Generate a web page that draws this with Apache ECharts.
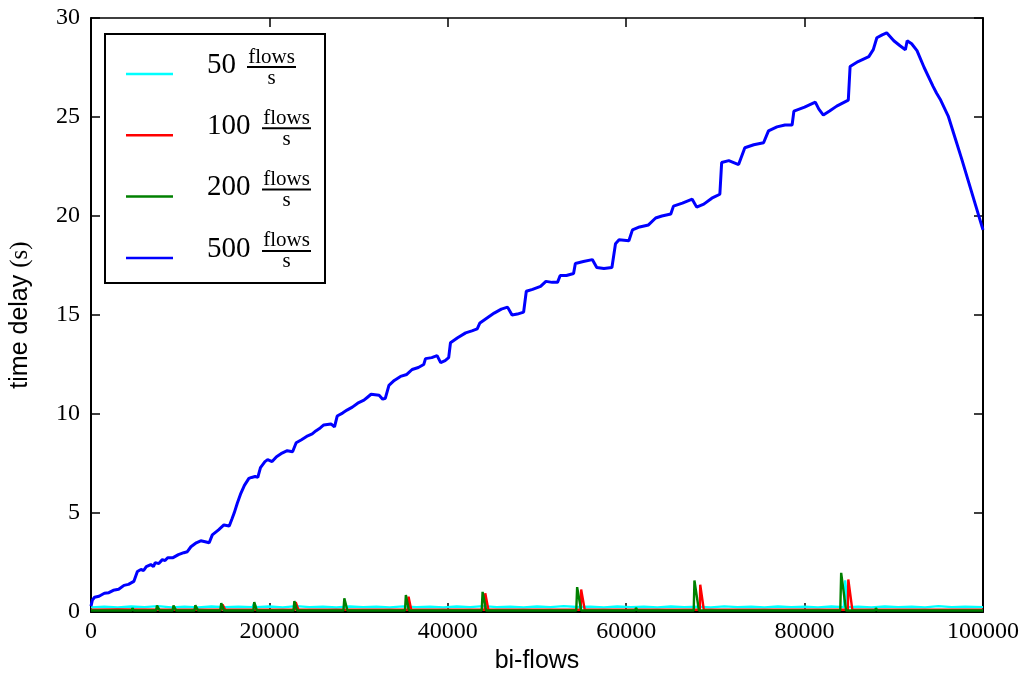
<!DOCTYPE html>
<html>
<head>
<meta charset="utf-8">
<script src="https://cdn.jsdelivr.net/npm/echarts@6/dist/echarts.min.js"></script>
<style>
  html, body { margin: 0; padding: 0; background: #fff; }
  #chart { width: 1029px; height: 679px; }
</style>
</head>
<body>
<div id="chart"></div>
<script>
// legend labels (rates in flows per second)
var rateLabels = ['50', '100', '200', '500'];
var lineColors = ['#00ffff', '#ff0000', '#008000', '#0000ff'];

// 50 flows/s
var cyanPoints = [[0,0.24],[1500,0.27],[3000,0.23],[4500,0.28],[6000,0.25],[7500,0.3],[9000,0.24],[10500,0.27],[12000,0.23],
  [13500,0.28],[15000,0.25],[16500,0.27],[18100,0.25],[18300,0.45],[18500,0.25],[20000,0.28],[21500,0.24],[23000,0.3],
  [24500,0.25],[26000,0.27],[27500,0.23],[29000,0.28],[30500,0.25],[32000,0.27],[33500,0.24],[35000,0.29],[36500,0.25],
  [38000,0.27],[39500,0.24],[41000,0.28],[42500,0.25],[44000,0.3],[45500,0.25],[47000,0.27],[48500,0.24],[50000,0.28],
  [51500,0.25],[53000,0.3],[54500,0.26],[56000,0.27],[57500,0.24],[59000,0.28],[60500,0.25],[62000,0.27],[63500,0.24],
  [65000,0.28],[66500,0.25],[68000,0.27],[69500,0.24],[71000,0.29],[72500,0.25],[74000,0.27],[75500,0.24],[77000,0.28],
  [78500,0.25],[80000,0.27],[81500,0.24],[83000,0.28],[84400,0.25],[84550,1.6],[84700,1.5],[84850,0.25],[86000,0.27],
  [87500,0.24],[89000,0.28],[90500,0.25],[92000,0.27],[93500,0.24],[95000,0.3],[96500,0.25],[98000,0.27],[100000,0.25]];

// 100 flows/s
var redPoints = [[0,0.12],[3000,0.14],[8900,0.12],[9000,0.2],[9150,0.12],[12900,0.12],[13000,0.2],[13150,0.12],
  [14700,0.12],[14750,0.38],[14900,0.36],[15050,0.12],[22900,0.12],[22950,0.5],[23100,0.47],[23250,0.12],
  [26000,0.12],[26100,0.2],[26250,0.12],[31000,0.12],[31100,0.19],[31250,0.12],[35550,0.12],[35600,0.78],[35750,0.75],
  [35900,0.12],[44150,0.12],[44200,0.95],[44350,0.92],[44550,0.12],[47000,0.12],[47100,0.2],[47250,0.12],
  [54900,0.12],[54950,1.14],[55100,1.1],[55350,0.12],[58000,0.12],[58100,0.2],[58250,0.12],[60100,0.12],[60200,0.22],
  [60350,0.12],[66000,0.12],[66100,0.2],[66250,0.12],[68250,0.12],[68300,1.38],[68450,1.32],[68700,0.12],
  [78000,0.12],[78100,0.2],[78250,0.12],[83400,0.12],[83500,0.22],[83650,0.12],[84850,0.12],[84900,1.65],[85050,1.6],
  [85350,0.12],[90000,0.12],[90100,0.2],[90250,0.12],[97000,0.12],[97100,0.2],[97250,0.12],[100000,0.12]];

// 200 flows/s
var greenPoints = [[0,0.08],[4550,0.08],[4650,0.2],[4800,0.08],[7300,0.08],[7400,0.33],[7550,0.3],[7700,0.08],
  [9150,0.08],[9250,0.33],[9400,0.3],[9550,0.08],[11600,0.08],[11700,0.35],[11850,0.32],[12000,0.08],
  [14500,0.08],[14600,0.45],[14750,0.42],[14900,0.08],[18200,0.08],[18300,0.5],[18450,0.47],[18600,0.08],
  [22700,0.08],[22800,0.56],[22950,0.52],[23100,0.08],[28300,0.08],[28400,0.7],[28550,0.66],[28750,0.08],
  [35200,0.08],[35300,0.86],[35450,0.82],[35650,0.08],[43800,0.08],[43900,1.02],[44050,0.96],[44300,0.08],
  [54400,0.08],[54500,1.26],[54650,1.2],[54950,0.08],[61000,0.08],[61100,0.22],[61250,0.08],
  [67570,0.08],[67650,1.6],[67800,1.5],[68150,0.08],[79400,0.08],[79500,0.16],[79650,0.08],
  [84000,0.08],[84100,1.98],[84300,1.9],[84650,0.08],[87900,0.08],[88000,0.2],[88150,0.08],[100000,0.08]];

// 500 flows/s
var bluePoints = [[0,0.3],[150,0.6],[400,0.75],[900,0.8],[1500,0.95],[2000,0.98],[2500,1.1],[3100,1.15],[3700,1.35],
  [4200,1.4],[4800,1.55],[5000,1.6],[5200,2.05],[5600,2.15],[5900,2.1],[6200,2.3],[6700,2.4],[7000,2.3],[7200,2.5],
  [7600,2.45],[8000,2.65],[8300,2.6],[8600,2.75],[9200,2.75],[9800,2.9],[10400,3.0],[10800,3.05],[11200,3.3],
  [11800,3.5],[12300,3.6],[12800,3.55],[13250,3.5],[13600,3.9],[14300,4.15],[14900,4.4],[15500,4.35],[15800,4.7],
  [16050,5.0],[16400,5.5],[16800,6.0],[17200,6.4],[17700,6.75],[18000,6.8],[18400,6.85],[18700,6.8],
  [19000,7.3],[19500,7.6],[19800,7.7],[20300,7.6],[20800,7.85],[21300,8.0],[22000,8.15],[22600,8.1],[22800,8.05],
  [23000,8.55],[23600,8.7],[24300,8.9],[24800,9.0],[25200,9.15],[25700,9.3],[26100,9.45],[26900,9.5],[27300,9.35],
  [27600,9.9],[28200,10.05],[28700,10.2],[29300,10.35],[29900,10.55],[30600,10.7],[31000,10.85],[31400,11.0],
  [32300,10.95],[32700,10.75],[33000,10.8],[33400,11.45],[34000,11.7],[34700,11.9],[35400,12.0],[36000,12.25],
  [36700,12.35],[37300,12.5],[37500,12.8],[38200,12.85],[38800,12.95],[39200,12.6],[39700,12.7],[40100,12.85],
  [40300,13.6],[41100,13.85],[42000,14.1],[42700,14.2],[43300,14.3],[43600,14.6],[44400,14.85],[45200,15.1],
  [46000,15.3],[46700,15.4],[47200,15.0],[47800,15.05],[48500,15.15],[48800,16.2],[49500,16.3],[50400,16.45],
  [51000,16.7],[51700,16.65],[52300,16.65],[52600,17.0],[53300,17.0],[54100,17.1],[54300,17.6],[55200,17.7],
  [56200,17.8],[56700,17.4],[57500,17.35],[58400,17.4],[58800,18.6],[59200,18.8],[60300,18.75],[60700,19.3],
  [61500,19.45],[62500,19.55],[63300,19.9],[64000,20.0],[65000,20.1],[65300,20.5],[66300,20.65],[67400,20.85],
  [67900,20.45],[68700,20.6],[69600,20.9],[70500,21.1],[70700,22.7],[71500,22.8],[72600,22.6],[73300,23.45],
  [74300,23.6],[75400,23.7],[75950,24.3],[76900,24.5],[77800,24.6],[78600,24.6],[78800,25.3],[80000,25.5],
  [81200,25.75],[81600,25.4],[82100,25.1],[82800,25.3],[83600,25.55],[84900,25.85],[85100,27.55],[86000,27.8],
  [87200,28.05],[87700,28.4],[88100,29.0],[88700,29.15],[89200,29.25],[89600,29.05],[90000,28.85],[90700,28.6],
  [91300,28.4],[91500,28.85],[92000,28.7],[92600,28.35],[93400,27.5],[94400,26.55],[94600,26.5],[94800,26.2],
  [95200,25.9],[96100,25.05],[96900,23.9],[97600,22.9],[98400,21.7],[99200,20.5],[100000,19.3]];

var seriesPoints = [cyanPoints, redPoints, greenPoints, bluePoints];

var xTicks = { min: 0, max: 100000, interval: 20000 };
var yTicks = { min: 0, max: 30, interval: 5 };

var serif = '"Liberation Serif", "DejaVu Serif", serif';
var sans = '"Liberation Sans", "DejaVu Sans", sans-serif';

var chart = echarts.init(document.getElementById('chart'));

function axisLine(w) {
    return { show: true, onZero: false, lineStyle: { color: '#000', width: w } };
}
function axisTick() {
    return { show: true, inside: true, length: 9, lineStyle: { color: '#000', width: 1.5 } };
}

// legend drawn by hand so the fraction "flows / s" can be stacked
var legendEls = [{
    type: 'rect',
    shape: { x: 105, y: 34, width: 220, height: 249 },
    style: { fill: '#fff', stroke: '#000', lineWidth: 2 },
    z: 100
}];
rateLabels.forEach(function (lab, i) {
    var off = i * 61.3;
    var fx = i === 0 ? 247 : 262;
    legendEls.push({
        type: 'line', z: 101,
        shape: { x1: 126, y1: 74 + off, x2: 173, y2: 74 + off },
        style: { stroke: lineColors[i], lineWidth: 2.5 }
    });
    legendEls.push({
        type: 'text', z: 101, x: 207, y: 65 + off,
        style: { text: lab, font: '29px ' + serif, fill: '#000', textAlign: 'left', textVerticalAlign: 'middle' }
    });
    legendEls.push({
        type: 'text', z: 101, x: fx + 24.5, y: 57 + off,
        style: { text: 'flows', font: '21px ' + serif, fill: '#000', textAlign: 'center', textVerticalAlign: 'middle' }
    });
    legendEls.push({
        type: 'line', z: 101,
        shape: { x1: fx, y1: 67 + off, x2: fx + 49, y2: 67 + off },
        style: { stroke: '#000', lineWidth: 2 }
    });
    legendEls.push({
        type: 'text', z: 101, x: fx + 24.5, y: 78 + off,
        style: { text: 's', font: '21px ' + serif, fill: '#000', textAlign: 'center', textVerticalAlign: 'middle' }
    });
});

function plainNum(v) { return String(v); }

var option = {
    backgroundColor: '#fff',
    animation: false,
    grid: { left: 90, right: 46, top: 18, bottom: 65, containLabel: false },
    xAxis: [{
        type: 'value', position: 'bottom',
        min: xTicks.min, max: xTicks.max, interval: xTicks.interval,
        axisLine: axisLine(2), axisTick: axisTick(), splitLine: { show: false },
        axisLabel: { color: '#000', fontFamily: serif, fontSize: 24, margin: 8, formatter: plainNum },
        name: 'bi-flows', nameLocation: 'middle', nameGap: 36,
        nameTextStyle: { color: '#000', fontFamily: sans, fontSize: 25 }
    }, {
        type: 'value', position: 'top',
        min: xTicks.min, max: xTicks.max, interval: xTicks.interval,
        axisLine: axisLine(1.5), axisTick: axisTick(), axisLabel: { show: false }, splitLine: { show: false }
    }],
    yAxis: [{
        type: 'value', position: 'left',
        min: yTicks.min, max: yTicks.max, interval: yTicks.interval,
        axisLine: axisLine(2), axisTick: axisTick(), splitLine: { show: false },
        axisLabel: { color: '#000', fontFamily: serif, fontSize: 24, margin: 11, formatter: plainNum },
        name: 'time delay {p|(s)}', nameLocation: 'middle', nameGap: 58, nameRotate: 90,
        nameTextStyle: {
            color: '#000', fontFamily: sans, fontSize: 25,
            rich: { p: { fontFamily: serif, fontSize: 25, color: '#000' } }
        }
    }, {
        type: 'value', position: 'right',
        min: yTicks.min, max: yTicks.max, interval: yTicks.interval,
        axisLine: axisLine(2), axisTick: axisTick(), axisLabel: { show: false }, splitLine: { show: false }
    }],
    series: seriesPoints.map(function (pts, i) {
        return {
            name: rateLabels[i] + ' flows/s',
            type: 'line',
            xAxisIndex: 0, yAxisIndex: 0,
            data: pts,
            showSymbol: false,
            lineStyle: { color: lineColors[i], width: i === 3 ? 3 : 2.4 },
            itemStyle: { color: lineColors[i] },
            z: 2 + i
        };
    }),
    graphic: legendEls
};

chart.setOption(option);
</script>
</body>
</html>
